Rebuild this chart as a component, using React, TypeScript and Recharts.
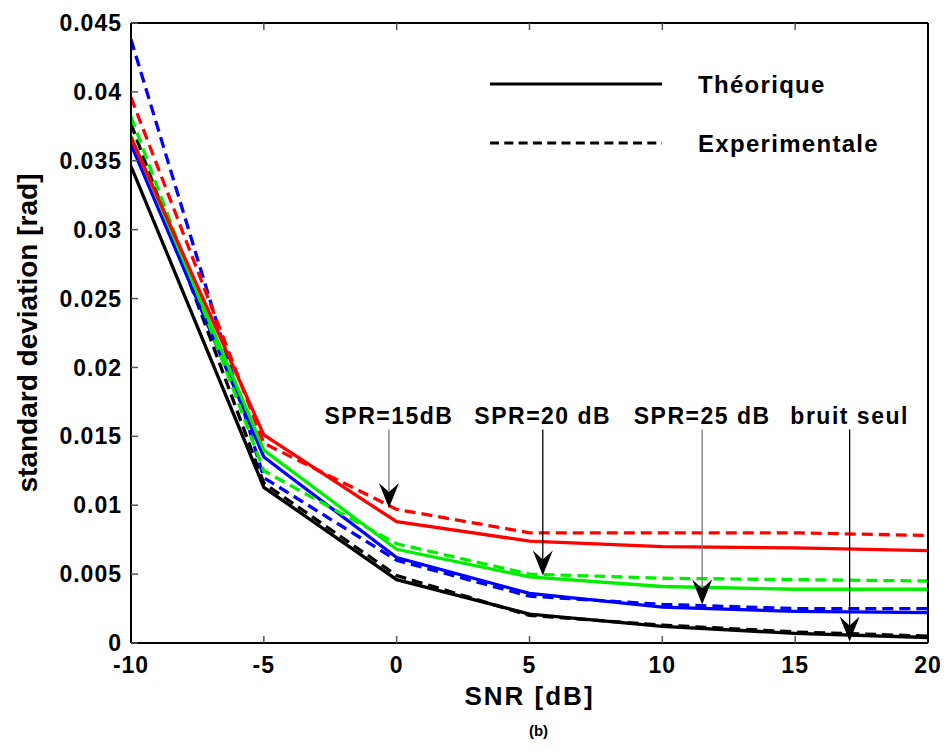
import React from "react";
import {
  LineChart,
  Line,
  XAxis,
  YAxis,
  ReferenceLine,
  Legend,
} from "recharts";

// SNR values (dB)
const snr = [-10, -5, 0, 5, 10, 15, 20];

// standard deviation [rad]
const bruitTheo = [0.0346, 0.0113, 0.0046, 0.0021, 0.0012, 0.0007, 0.0004];
const bruitExp = [0.0377, 0.0116, 0.0049, 0.002, 0.0013, 0.0008, 0.0005];
const spr25Theo = [0.0362, 0.0135, 0.0062, 0.0036, 0.0026, 0.0023, 0.0022];
const spr25Exp = [0.0438, 0.012, 0.006, 0.0034, 0.0028, 0.0025, 0.0025];
const spr20Theo = [0.0368, 0.014, 0.0068, 0.0048, 0.0041, 0.0039, 0.0039];
const spr20Exp = [0.0382, 0.0125, 0.0072, 0.005, 0.0047, 0.0046, 0.0045];
const spr15Theo = [0.0367, 0.0151, 0.0088, 0.0074, 0.007, 0.0069, 0.0067];
const spr15Exp = [0.0396, 0.0145, 0.0097, 0.008, 0.008, 0.008, 0.0078];

const xTicks = [-10, -5, 0, 5, 10, 15, 20];
const yTicks = [0, 0.005, 0.01, 0.015, 0.02, 0.025, 0.03, 0.035, 0.04, 0.045];

// annotation arrows (data coords)
const arrowLabels = ["SPR=15dB", "SPR=20 dB", "SPR=25 dB", "bruit seul"];
const arrowX = [-0.29, 5.5, 11.5, 17.05];
const arrowTipY = [0.0098, 0.0049, 0.0028, 0.0001];
const arrowTopY = 0.0155;

const data = snr.map((x, i) => ({
  snr: x,
  bruitTheo: bruitTheo[i],
  bruitExp: bruitExp[i],
  spr25Theo: spr25Theo[i],
  spr25Exp: spr25Exp[i],
  spr20Theo: spr20Theo[i],
  spr20Exp: spr20Exp[i],
  spr15Theo: spr15Theo[i],
  spr15Exp: spr15Exp[i],
}));

const series = [
  { key: "bruitTheo", color: "#000000", dashed: false },
  { key: "bruitExp", color: "#000000", dashed: true },
  { key: "spr25Theo", color: "#0000ff", dashed: false },
  { key: "spr25Exp", color: "#0000ff", dashed: true },
  { key: "spr20Theo", color: "#00ee00", dashed: false },
  { key: "spr20Exp", color: "#00ee00", dashed: true },
  { key: "spr15Theo", color: "#ff0000", dashed: false },
  { key: "spr15Exp", color: "#ff0000", dashed: true },
];
const arrowColors = ["#777777", "#000000", "#777777", "#000000"];

const FONT = "'Liberation Sans', Arial, Helvetica, sans-serif";
const tickStyle = {
  fill: "#000",
  fontSize: 23,
  fontWeight: "bold",
  fontFamily: FONT,
  letterSpacing: 1,
};
const tickLine = { stroke: "#555", strokeWidth: 1.5 };
const axisLine = { stroke: "#000", strokeWidth: 2 };

function arrowShape(color: string) {
  return (p: any) => {
    const { x1, y1, x2, y2 } = p;
    return (
      <g>
        <line x1={x1} y1={y1} x2={x2} y2={y2 - 10} stroke={color} strokeWidth={1.3} />
        <path
          d={`M${x2},${y2} L${x2 - 10},${y2 - 25} L${x2},${y2 - 16} L${x2 + 10},${y2 - 25} Z`}
          fill="#000"
        />
      </g>
    );
  };
}

function LegendBox() {
  const txt = { fontSize: 24, fontWeight: "bold", fontFamily: FONT, letterSpacing: 1.3 } as const;
  return (
    <svg width={420} height={100}>
      <line x1={0} y1={24} x2={172} y2={24} stroke="#000" strokeWidth={3} />
      <text x={208} y={24} dominantBaseline="central" {...txt}>
        Théorique
      </text>
      <line x1={0} y1={83} x2={172} y2={83} stroke="#000" strokeWidth={3} strokeDasharray="9 5.3" />
      <text x={208} y={83} dominantBaseline="central" {...txt}>
        Experimentale
      </text>
    </svg>
  );
}

export default function App() {
  return (
    <div style={{ position: "absolute", left: 0, top: 0, width: 945, height: 755, background: "#fff" }}>
      <LineChart
        width={945}
        height={755}
        data={data}
        margin={{ top: 22, right: 16, left: 0, bottom: 42 }}
      >
        <XAxis
          dataKey="snr"
          type="number"
          domain={[-10, 20]}
          ticks={xTicks}
          allowDataOverflow
          height={70}
          tick={tickStyle}
          tickSize={-7}
          tickMargin={21}
          tickLine={tickLine}
          axisLine={axisLine}
          label={{
            value: "SNR [dB]",
            position: "insideBottom",
            offset: 8,
            fill: "#000",
            fontSize: 26,
            fontWeight: "bold",
            fontFamily: FONT,
            letterSpacing: 2,
          }}
        />
        <XAxis
          xAxisId="top"
          dataKey="snr"
          type="number"
          orientation="top"
          domain={[-10, 20]}
          ticks={xTicks}
          height={1}
          tickFormatter={() => ""}
          tickSize={-7}
          tickLine={tickLine}
          axisLine={axisLine}
        />
        <YAxis
          type="number"
          domain={[0, 0.045]}
          ticks={yTicks}
          allowDataOverflow
          width={131}
          tick={tickStyle}
          tickSize={-7}
          tickMargin={16}
          tickLine={tickLine}
          axisLine={axisLine}
          label={{
            value: "standard deviation [rad]",
            angle: -90,
            position: "insideLeft",
            offset: 27,
            fill: "#000",
            fontSize: 28,
            fontWeight: "bold",
            fontFamily: FONT,
            style: { textAnchor: "middle" },
          }}
        />
        <YAxis
          yAxisId="right"
          type="number"
          orientation="right"
          domain={[0, 0.045]}
          ticks={yTicks}
          width={1}
          tickFormatter={() => ""}
          tickSize={-7}
          tickLine={tickLine}
          axisLine={axisLine}
        />
        {series.map((s) => (
          <Line
            key={s.key}
            type="linear"
            dataKey={s.key}
            stroke={s.color}
            strokeWidth={3.3}
            strokeDasharray={s.dashed ? "11 6" : undefined}
            dot={false}
            activeDot={false}
            isAnimationActive={false}
          />
        ))}
        {arrowLabels.map((lab, i) => (
          <ReferenceLine
            key={lab}
            segment={[
              { x: arrowX[i], y: arrowTopY },
              { x: arrowX[i], y: arrowTipY[i] },
            ]}
            shape={arrowShape(arrowColors[i])}
            label={{
              value: lab,
              position: "top",
              offset: 5,
              fill: "#000",
              fontSize: 23,
              fontWeight: "bold",
              fontFamily: FONT,
              letterSpacing: 1.5,
            }}
          />
        ))}
        <Legend
          layout="horizontal"
          verticalAlign="middle"
          align="center"
          wrapperStyle={{ left: 490, top: 60, width: 420, height: 100 }}
          content={() => <LegendBox />}
        />
      </LineChart>
      <div
        style={{
          position: "absolute",
          left: 0,
          top: 722,
          width: 1077,
          textAlign: "center",
          fontFamily: FONT,
          fontWeight: "bold",
          fontSize: 15,
        }}
      >
        (b)
      </div>
    </div>
  );
}
